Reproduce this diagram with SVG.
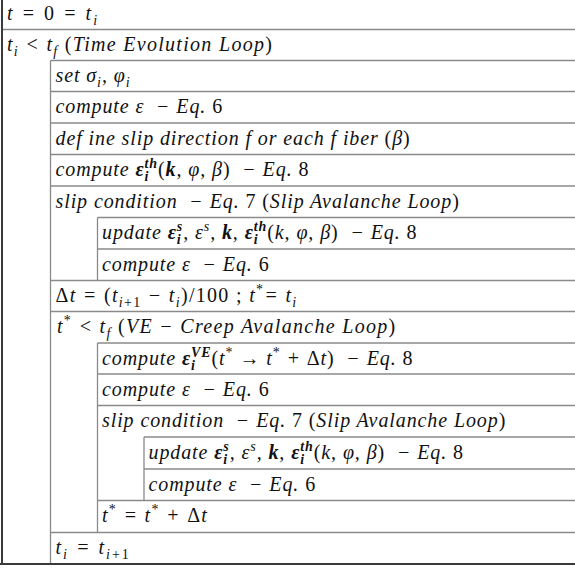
<svg xmlns="http://www.w3.org/2000/svg" width="575" height="569" viewBox="0 0 575 569">
<style>
.bg{fill:#fff}
.g{stroke:#8a8a8a;stroke-width:1.3;fill:none}
.k{stroke:#3a3a3a;stroke-width:2;fill:none}
text{font-family:"Liberation Serif","Times New Roman",serif;font-style:italic;font-size:20px;letter-spacing:0.9px;fill:#111;white-space:pre}
.u{font-style:normal}
.b{font-weight:bold}
.s{font-size:14px}
.w1{letter-spacing:1.3px}
.w2{letter-spacing:2px}
</style>
<rect class="bg" x="0" y="0" width="575" height="569"/>
<g id="grid">
<path class="g" d="M2 29.5H575M50.5 60.5H575M50.5 91.5H575M50.5 123H575M50.5 154.5H575M50.5 186H575M97.5 217.5H575M97.5 249H575M50.5 280.5H575M50.5 311.5H575M97.5 343H575M97.5 374H575M97.5 405.5H575M144 437H575M144 469H575M97.5 500.5H575M50.5 532.5H575"/>
<path class="g" d="M50.5 60.5V564M97.5 217.5V280.5M97.5 343V532.5M144 437V500.5"/>
<path class="k" d="M2 0V565M0 564H575"/>
</g>
<g id="r1"><text class="w2" x="7" y="20">t = <tspan class="u">0</tspan> = t<tspan class="s" dy="5">i</tspan></text></g>
<g id="r2"><text class="w1" x="7" y="51">t<tspan class="s" dy="5">i</tspan><tspan dy="-5"> &lt; t</tspan><tspan class="s" dy="5">f</tspan><tspan dy="-5"> <tspan class="u">(</tspan>Time Evolution Loop<tspan class="u">)</tspan></tspan></text></g>
<g id="r3"><text x="55.5" y="82">set σ<tspan class="s" dy="5">i</tspan><tspan dy="-5">, φ</tspan><tspan class="s" dy="5">i</tspan></text></g>
<g id="r4"><text x="55.5" y="113">compute ε  − Eq. <tspan class="u">6</tspan></text></g>
<g id="r5"><text x="55.5" y="144.5">def ine slip direction f or each f iber <tspan class="u">(</tspan>β<tspan class="u">)</tspan></text></g>
<g id="r6"><text x="55.5" y="176">compute <tspan class="b">ε</tspan><tspan class="s b" dy="5">i</tspan><tspan class="s b" dx="-4.8" dy="-13">th</tspan><tspan dy="8"><tspan class="u">(</tspan><tspan class="b">k</tspan>, φ, β<tspan class="u">)</tspan>  − Eq. <tspan class="u">8</tspan></tspan></text></g>
<g id="r7"><text x="55.5" y="207.5">slip condition  − Eq. <tspan class="u">7 (</tspan>Slip Avalanche Loop<tspan class="u">)</tspan></text></g>
<g id="r8"><text x="102" y="239">update <tspan class="b">ε</tspan><tspan class="s b" dy="5">i</tspan><tspan class="s b" dx="-4.8" dy="-13">s</tspan><tspan dy="8">, ε</tspan><tspan class="s" dy="-8">s</tspan><tspan dy="8">, <tspan class="b">k</tspan>, <tspan class="b">ε</tspan></tspan><tspan class="s b" dy="5">i</tspan><tspan class="s b" dx="-4.8" dy="-13">th</tspan><tspan dy="8"><tspan class="u">(</tspan>k, φ, β<tspan class="u">)</tspan>  − Eq. <tspan class="u">8</tspan></tspan></text></g>
<g id="r9"><text x="102" y="270.5">compute ε  − Eq. <tspan class="u">6</tspan></text></g>
<g id="r10"><text class="w1" x="55.5" y="301.5"><tspan class="u">Δ</tspan>t = <tspan class="u">(</tspan>t<tspan class="s" dy="5">i<tspan class="u">+1</tspan></tspan><tspan dy="-5"> − t</tspan><tspan class="s" dy="5">i</tspan><tspan dy="-5" class="u">)/100 ; </tspan><tspan>t</tspan><tspan class="s u" dy="-8">*</tspan><tspan dy="8">= t</tspan><tspan class="s" dy="5">i</tspan></text></g>
<g id="r11"><text class="w1" x="57" y="333">t<tspan class="s u" dy="-8">*</tspan><tspan dy="8"> &lt; t</tspan><tspan class="s" dy="5">f</tspan><tspan dy="-5"> <tspan class="u">(</tspan>VE − Creep Avalanche Loop<tspan class="u">)</tspan></tspan></text></g>
<g id="r12"><text x="102" y="364.5">compute <tspan class="b">ε</tspan><tspan class="s b" dy="5">i</tspan><tspan class="s b" dx="-4.8" dy="-13">VE</tspan><tspan dy="8"><tspan class="u">(</tspan>t</tspan><tspan class="s u" dy="-8">*</tspan><tspan dy="8"> → t</tspan><tspan class="s u" dy="-8">*</tspan><tspan dy="8"> + <tspan class="u">Δ</tspan>t<tspan class="u">)</tspan>  − Eq. <tspan class="u">8</tspan></tspan></text></g>
<g id="r13"><text x="102" y="395.5">compute ε  − Eq. <tspan class="u">6</tspan></text></g>
<g id="r14"><text x="102" y="427">slip condition  − Eq. <tspan class="u">7 (</tspan>Slip Avalanche Loop<tspan class="u">)</tspan></text></g>
<g id="r15"><text x="148.5" y="459">update <tspan class="b">ε</tspan><tspan class="s b" dy="5">i</tspan><tspan class="s b" dx="-4.8" dy="-13">s</tspan><tspan dy="8">, ε</tspan><tspan class="s" dy="-8">s</tspan><tspan dy="8">, <tspan class="b">k</tspan>, <tspan class="b">ε</tspan></tspan><tspan class="s b" dy="5">i</tspan><tspan class="s b" dx="-4.8" dy="-13">th</tspan><tspan dy="8"><tspan class="u">(</tspan>k, φ, β<tspan class="u">)</tspan>  − Eq. <tspan class="u">8</tspan></tspan></text></g>
<g id="r16"><text x="148.5" y="490.5">compute ε  − Eq. <tspan class="u">6</tspan></text></g>
<g id="r17"><text class="w1" x="102" y="522">t<tspan class="s u" dy="-8">*</tspan><tspan dy="8"> = t</tspan><tspan class="s u" dy="-8">*</tspan><tspan dy="8"> + <tspan class="u">Δ</tspan>t</tspan></text></g>
<g id="r18"><text class="w2" x="55.5" y="554">t<tspan class="s" dy="5">i</tspan><tspan dy="-5"> = t</tspan><tspan class="s" dy="5">i<tspan class="u">+1</tspan></tspan></text></g>
</svg>
